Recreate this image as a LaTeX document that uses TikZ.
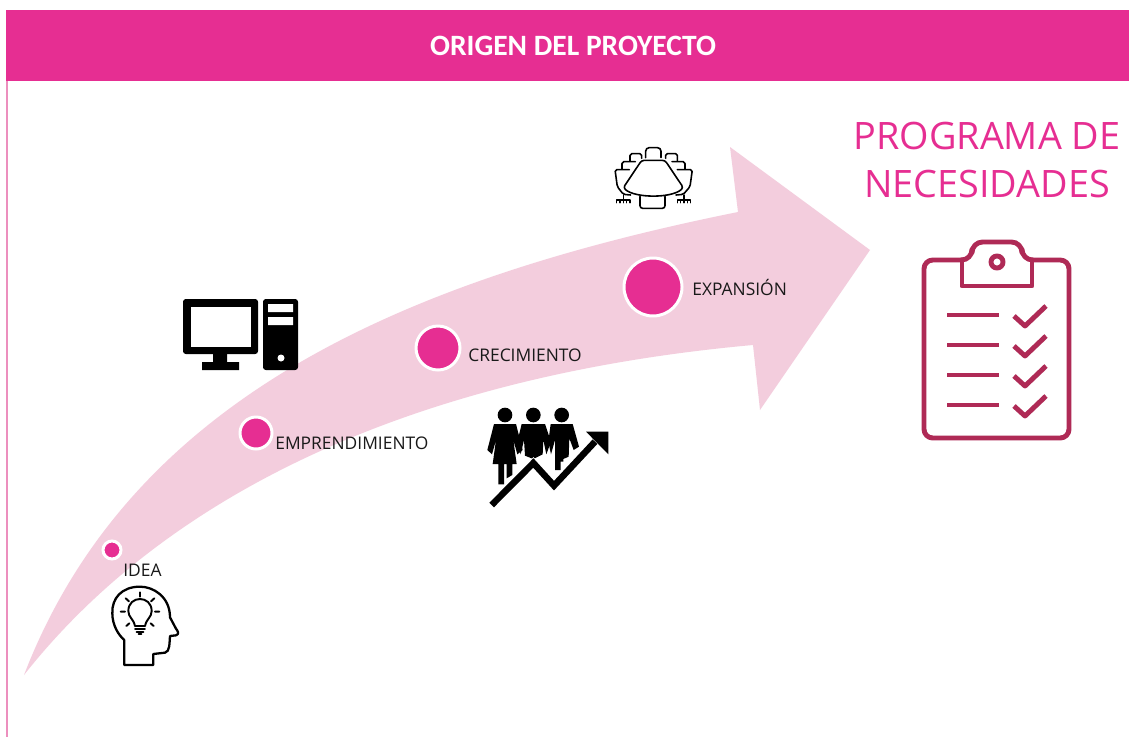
\documentclass[tikz,border=0pt]{standalone}
\usepackage{fontspec}
\setmainfont{Open Sans}
\newfontfamily\titlefont{Carlito}
\definecolor{magentaA}{HTML}{E62E92}
\definecolor{bandA}{HTML}{F3CDDD}
\definecolor{clipA}{HTML}{AF2A56}
\definecolor{edgeA}{HTML}{EC8FBE}
\tikzset{
  x=0.02cm,y=-0.02cm,
  dot/.style={circle,fill=magentaA,draw=white,line width=1.7pt,inner sep=0pt},
  lab/.style={font=\fontsize{9.9}{11}\selectfont,text=black!90,inner sep=0pt,anchor=west},
  iconline/.style={line width=#1,line cap=round,line join=round},
  clipline/.style={draw=clipA,line width=2.8pt,line join=round},
}
\begin{document}
\begin{tikzpicture}
\useasboundingbox (0,0) rectangle (1129,737);
\fill[white] (0,0) rectangle (1129,737);
% left rule
\draw[edgeA,line width=0.9pt] (7,81) -- (7,737);
% header
\node[fill=magentaA,minimum width=1123*0.02cm,minimum height=71*0.02cm,inner sep=0pt,anchor=north west] (header) at (6,10) {};
\node[text=white,font=\titlefont\bfseries\fontsize{16.8}{20}\selectfont,inner sep=0pt] (title) at (573,46) {ORIGEN DEL PROYECTO};
% band arrow
\fill[bandA] (24,675) .. controls (130,400) and (400,280) .. (738,212)
  -- (730,147) -- (870,250) -- (760,410) -- (753,345)
  .. controls (420,375) and (170,490) .. (24,675) -- cycle;
% circles
\node[dot,minimum size=18*0.02cm] (d1) at (112,550) {};
\node[dot,minimum size=32*0.02cm] (d2) at (256,433) {};
\node[dot,minimum size=44*0.02cm] (d3) at (438,348) {};
\node[dot,minimum size=58*0.02cm] (d4) at (653,287) {};
% labels
\node[lab] (l1) at (123,570) {IDEA};
\node[lab] (l2) at (275,443.5) {EMPRENDIMIENTO};
\node[lab] (l3) at (468,355.5) {CRECIMIENTO};
\node[lab] (l4) at (692,287.5) {EXPANSIÓN};
\node[text=magentaA,font=\fontsize{21.5}{27.5}\selectfont,align=center,inner sep=0pt] (prog) at (987,160) {PROGRAMA DE\\NECESIDADES};
% idea head icon
\begin{scope}[shift={(90,530)},scale=1/3]
 \draw[iconline=1.3pt] (103,330) -- (103,405) -- (190,405) -- (190,372) -- (225,368)
   .. controls (240,365) and (238,340) .. (240,318) -- (258,316) .. controls (268,312) and (265,305) .. (258,296)
   -- (240,262) .. controls (240,200) and (190,170) .. (150,170)
   .. controls (95,170) and (65,205) .. (67,250) .. controls (67,285) and (85,315) .. (103,330);
 \draw[iconline=1.1pt] (135,288) .. controls (130,265) and (115,262) .. (115,243)
   .. controls (115,195) and (185,195) .. (185,243) .. controls (185,262) and (170,265) .. (165,288) -- cycle;
 \draw[iconline=1.1pt] (135,298) -- (165,298) (140,306) -- (160,306) (146,313) -- (154,313);
 \draw[iconline=1.1pt] (150,187) -- (150,200) (107,205) -- (117,214) (193,205) -- (183,214)
   (92,245) -- (105,245) (195,245) -- (208,245) (109,288) -- (118,280) (191,288) -- (182,280);
\end{scope}
% computer icon
\fill[black,rounded corners=1.6pt] (183,299) rectangle (258,354);
\fill[white] (191,307) rectangle (251,347);
\fill[black] (213,354) rectangle (227,362) (202,362) rectangle (239,370);
\fill[black,rounded corners=1.6pt] (263,299) rectangle (298,370);
\fill[white] (268,304) rectangle (293,312) (268,317) rectangle (293,325);
\fill[white] (281,358) circle[radius=3.5];
% people icon
\begin{scope}[shift={(480,395)},scale=1/3]
 \fill[black] (75,60) circle[radius=22] (160,60) circle[radius=22] (245,60) circle[radius=22];
 \fill[black] (42,87) -- (108,87) -- (128,165) -- (112,178) -- (100,135) -- (110,207) -- (97,207) -- (97,240) -- (80,250) -- (80,207) -- (72,207) -- (72,268) -- (55,268) -- (55,207) -- (38,207) -- (48,135) -- (36,178) -- (22,165) -- cycle;
 \fill[black] (125,87) -- (195,87) -- (213,140) -- (199,178) -- (190,135) -- (188,178) -- (160,192) -- (135,182) -- (132,135) -- (122,178) -- (112,140) -- cycle;
 \fill[black] (212,87) -- (278,87) -- (297,155) -- (281,165) -- (268,130) -- (266,185) -- (250,192) -- (250,200) -- (242,200) -- (242,225) -- (225,225) -- (225,135) -- (213,178) -- (205,140) -- cycle;
 \draw[white,line width=4.6pt,line join=miter] (35,330) -- (160,204) -- (222,272) -- (345,140);
 \draw[black,line width=3.7pt,line join=miter] (35,330) -- (160,204) -- (222,272) -- (345,140);
 \fill[black] (318,110) -- (385,110) -- (385,178) -- cycle;
\end{scope}
% meeting table icon
\begin{scope}[shift={(600,135)},scale=1/3]
 \draw[iconline=0.9pt,rounded corners=1.5pt] (125,76) -- (195,76) -- (250,158) .. controls (215,190) and (105,190) .. (70,158) -- cycle;
 \draw[iconline=0.9pt,rounded corners=1.5pt] (120,184) -- (120,220) -- (195,220) -- (195,184);
 \draw[iconline=0.9pt,rounded corners=2pt] (137,68) -- (137,38) -- (183,38) -- (183,68);
 \draw[iconline=0.9pt,rounded corners=1pt] (125,70) -- (125,56) -- (90,56) -- (90,78);
 \draw[iconline=0.9pt,rounded corners=1pt] (197,70) -- (197,56) -- (232,56) -- (232,78);
 \draw[iconline=0.9pt,rounded corners=1pt] (106,80) -- (66,80) -- (66,102);
 \draw[iconline=0.9pt,rounded corners=1pt] (216,80) -- (255,80) -- (255,102);
 \draw[iconline=0.9pt,rounded corners=1pt] (88,104) -- (45,104) -- (52,155) -- (70,178) -- (92,180);
 \draw[iconline=0.9pt,rounded corners=1pt] (232,104) -- (277,104) -- (270,155) -- (250,178) -- (228,180);
 \draw[iconline=0.9pt] (70,180) -- (70,203) (50,203) -- (50,195) -- (90,195) -- (90,203) (60,195) -- (60,203) (80,195) -- (80,203);
 \draw[iconline=0.9pt] (252,180) -- (252,203) (232,203) -- (232,195) -- (272,195) -- (272,203) (242,195) -- (242,203) (262,195) -- (262,203);
\end{scope}
% clipboard icon
\draw[clipline,rounded corners=5pt] (962,260) -- (924,260) -- (924,438) -- (1069,438) -- (1069,260) -- (1032,260);
\draw[clipline] (962,258.6) -- (962,286) -- (1032,286) -- (1032,258.6);
\draw[clipline,rounded corners=6pt] (962,260) -- (972,260) -- (972,242) -- (1022,242) -- (1022,260) -- (1032,260);
\draw[clipline] (997,262) circle[radius=6];
\foreach \yy in {0,30,60,90}{
  \draw[clipline,line cap=butt] (947,315+\yy) -- (999,315+\yy);
  \draw[clipline] (1014,316+\yy) -- (1025,326+\yy) -- (1046,306+\yy);
}
\end{tikzpicture}
\end{document}
